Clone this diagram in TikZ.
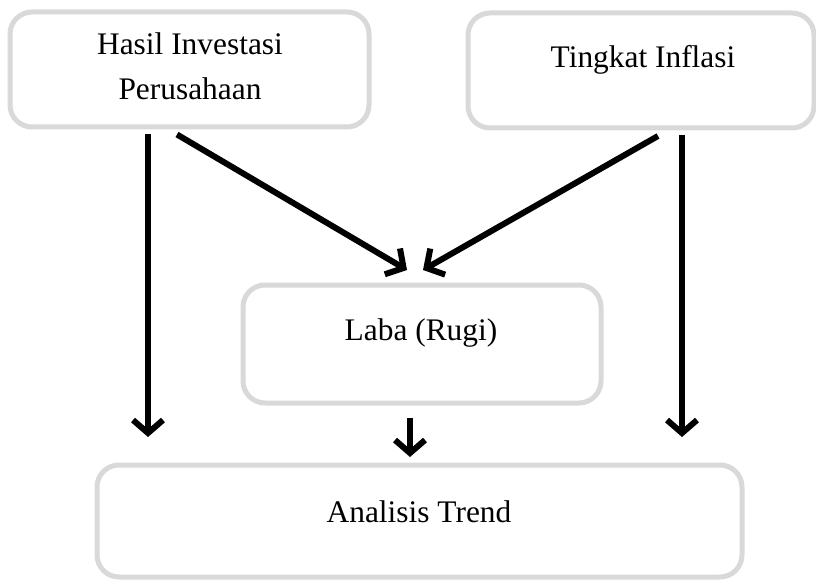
\documentclass[tikz,border=0pt]{standalone}
\usepackage{fontspec}
\setmainfont{Liberation Serif}
\usetikzlibrary{arrows.meta}
\definecolor{boxgray}{HTML}{D9D9D9}
\tikzset{
  box/.style={draw=boxgray, line width=5pt, rounded corners=22pt, fill=white, inner sep=0pt},
  txt/.style={inner sep=0pt, font=\fontsize{31.4}{45}\selectfont, align=center, anchor=base},
  arr/.style={line width=6pt, -{Straight Barb[length=13pt,width=30pt]}},
}
\begin{document}
\begin{tikzpicture}[x=1pt,y=-1pt]
\useasboundingbox (0,0) rectangle (816,580);
% boxes
\node[box, minimum width=359pt, minimum height=115pt] (b1) at (189.5,69.5) {};
\node[box, minimum width=346pt, minimum height=115pt] (b2) at (641,70.5) {};
\node[box, minimum width=358pt, minimum height=118pt] (b3) at (422,344) {};
\node[box, minimum width=645pt, minimum height=112pt] (b4) at (419.5,521) {};
% texts
\node[txt] (t1) at (190,100) {Hasil Investasi\\Perusahaan};
\node[txt] (t2) at (643,68) {Tingkat Inflasi};
\node[txt] (t3) at (421,340) {Laba (Rugi)};
\node[txt] (t4) at (419,522) {Analisis Trend};
% connector ends
\coordinate (e1) at (148,437);
\coordinate (e2) at (407,270);
\coordinate (e3) at (423,270);
\coordinate (e4) at (682,437);
\coordinate (e5) at (410,457);
% arrows
\draw[arr] ([yshift=-5pt]b1.south -| e1) -- (e1);
\draw[arr] ([xshift=-12.5pt,yshift=-5pt]b1.south) -- (e2);
\draw[arr] ([xshift=17pt,yshift=-5.5pt]b2.south) -- (e3);
\draw[arr] ([yshift=-5pt]b2.south -| e4) -- (e4);
\draw[arr] ([yshift=-12pt]b3.south -| e5) -- (e5);
\end{tikzpicture}
\end{document}
